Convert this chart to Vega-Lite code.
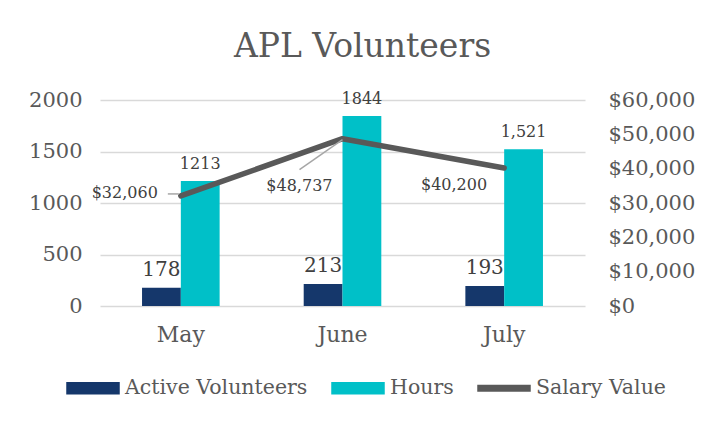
{
  "$schema": "https://vega.github.io/schema/vega-lite/v6.json",
  "width": 485,
  "height": 206,
  "autosize": "none",
  "padding": {"left": 100, "top": 100, "right": 132, "bottom": 117},
  "background": "white",
  "config": {
    "font": "DejaVu Serif",
    "view": {"stroke": null},
    "axis": {"labelColor": "#595959", "labelFont": "DejaVu Serif"}
  },
  "datasets": {
    "bars": [
      {"month": "May", "series": "Active Volunteers", "value": 178, "label": "178"},
      {"month": "May", "series": "Hours", "value": 1213, "label": "1213"},
      {"month": "June", "series": "Active Volunteers", "value": 213, "label": "213"},
      {"month": "June", "series": "Hours", "value": 1844, "label": "1844"},
      {"month": "July", "series": "Active Volunteers", "value": 193, "label": "193"},
      {"month": "July", "series": "Hours", "value": 1521, "label": "1,521"}
    ],
    "salary": [
      {"month": "May", "series": "Salary Value", "salary": 32060},
      {"month": "June", "series": "Salary Value", "salary": 48737},
      {"month": "July", "series": "Salary Value", "salary": 40200}
    ]
  },
  "title": {
    "text": "APL Volunteers",
    "fontSize": 33,
    "font": "DejaVu Serif",
    "fontWeight": "normal",
    "color": "#595959",
    "anchor": "middle",
    "dx": 20,
    "offset": 25
  },
  "encoding": {
    "x": {
      "field": "month", "type": "nominal", "sort": ["May", "June", "July"],
      "scale": {"domain": ["May", "June", "July"], "paddingInner": 0.52, "paddingOuter": 0.26},
      "axis": {"title": null, "labelFontSize": 22, "labelPadding": 18, "domain": false, "ticks": false, "labelAngle": 0}
    }
  },
  "layer": [
    {
      "data": {"name": "bars"},
      "encoding": {
        "xOffset": {"field": "series", "type": "nominal", "scale": {"domain": ["Active Volunteers", "Hours"], "paddingInner": 0, "paddingOuter": 0}},
        "y": {
          "field": "value", "type": "quantitative",
          "scale": {"domain": [0, 2000], "nice": false},
          "axis": {"title": null, "values": [0, 500, 1000, 1500, 2000], "format": "d", "grid": true, "gridColor": "#D9D9D9", "gridWidth": 1.3, "domain": false, "ticks": false, "labelPadding": 18, "labelFontSize": 21}
        }
      },
      "layer": [
        {
          "mark": {"type": "bar"},
          "encoding": {
            "color": {
              "field": "series", "type": "nominal",
              "scale": {"domain": ["Active Volunteers", "Hours", "Salary Value"], "range": ["#15376B", "#00C0C8", "#595959"]},
              "legend": {
                "orient": "none", "legendX": -34, "legendY": 261, "direction": "horizontal", "title": null,
                "labelFontSize": 20.5, "labelColor": "#595959", "labelFont": "DejaVu Serif",
                "symbolSize": 2704, "labelOffset": 5, "columnPadding": 21, "labelLimit": 400,
                "encode": {"symbols": {"update": {
                  "shape": {"signal": "datum.value === 'Salary Value' ? 'M-1,-0.11H1V0.11H-1Z' : 'M-1,-0.21H1V0.21H-1Z'"},
                  "fill": {"scale": "color", "field": "value"},
                  "stroke": {"value": "transparent"},
                  "opacity": {"value": 1}
                }}}
              }
            }
          }
        },
        {
          "mark": {"type": "text", "baseline": "alphabetic", "dy": -12, "color": "#404040"},
          "encoding": {
            "text": {"field": "label"},
            "size": {"condition": {"test": "datum.series === 'Active Volunteers'", "value": 20}, "value": 16}
          }
        }
      ]
    },
    {
      "data": {"name": "salary"},
      "encoding": {
        "y": {
          "field": "salary", "type": "quantitative",
          "scale": {"domain": [0, 60000], "nice": false},
          "axis": {"title": null, "orient": "right", "format": "$,.0f", "values": [0, 10000, 20000, 30000, 40000, 50000, 60000], "grid": false, "domain": false, "ticks": false, "labelPadding": 23, "labelFontSize": 21}
        }
      },
      "layer": [
        {
          "mark": {"type": "line", "strokeWidth": 5.5, "strokeCap": "round", "strokeJoin": "round"},
          "encoding": {"color": {"field": "series", "type": "nominal"}}
        },
        {
          "transform": [{"filter": "datum.month === 'May'"}],
          "mark": {"type": "rule", "color": "#A6A6A6", "strokeWidth": 1.5, "xOffset": -13, "x2Offset": -2, "yOffset": -2, "y2Offset": -2},
          "encoding": {
            "x": {"field": "month", "type": "nominal", "sort": ["May", "June", "July"], "bandPosition": 0.5},
            "x2": {"field": "month"},
            "y2": {"field": "salary"}
          }
        },
        {
          "transform": [{"filter": "datum.month === 'June'"}],
          "mark": {"type": "rule", "color": "#A6A6A6", "strokeWidth": 1.5, "xOffset": 0, "x2Offset": -43, "yOffset": 1, "y2Offset": 31},
          "encoding": {
            "x": {"field": "month", "type": "nominal", "sort": ["May", "June", "July"], "bandPosition": 0.5},
            "x2": {"field": "month"},
            "y2": {"field": "salary"}
          }
        },
        {
          "transform": [{"filter": "datum.month === 'May'"}],
          "mark": {"type": "text", "align": "right", "baseline": "middle", "dx": -23, "dy": -3, "fontSize": 16, "color": "#404040"},
          "encoding": {"text": {"field": "salary", "type": "quantitative", "format": "$,.0f"}}
        },
        {
          "transform": [{"filter": "datum.month === 'June'"}],
          "mark": {"type": "text", "align": "right", "baseline": "middle", "dx": -10, "dy": 47, "fontSize": 16, "color": "#404040"},
          "encoding": {"text": {"field": "salary", "type": "quantitative", "format": "$,.0f"}}
        },
        {
          "transform": [{"filter": "datum.month === 'July'"}],
          "mark": {"type": "text", "align": "right", "baseline": "middle", "dx": -17, "dy": 17, "fontSize": 16, "color": "#404040"},
          "encoding": {"text": {"field": "salary", "type": "quantitative", "format": "$,.0f"}}
        }
      ]
    }
  ],
  "resolve": {"scale": {"y": "independent"}}
}
